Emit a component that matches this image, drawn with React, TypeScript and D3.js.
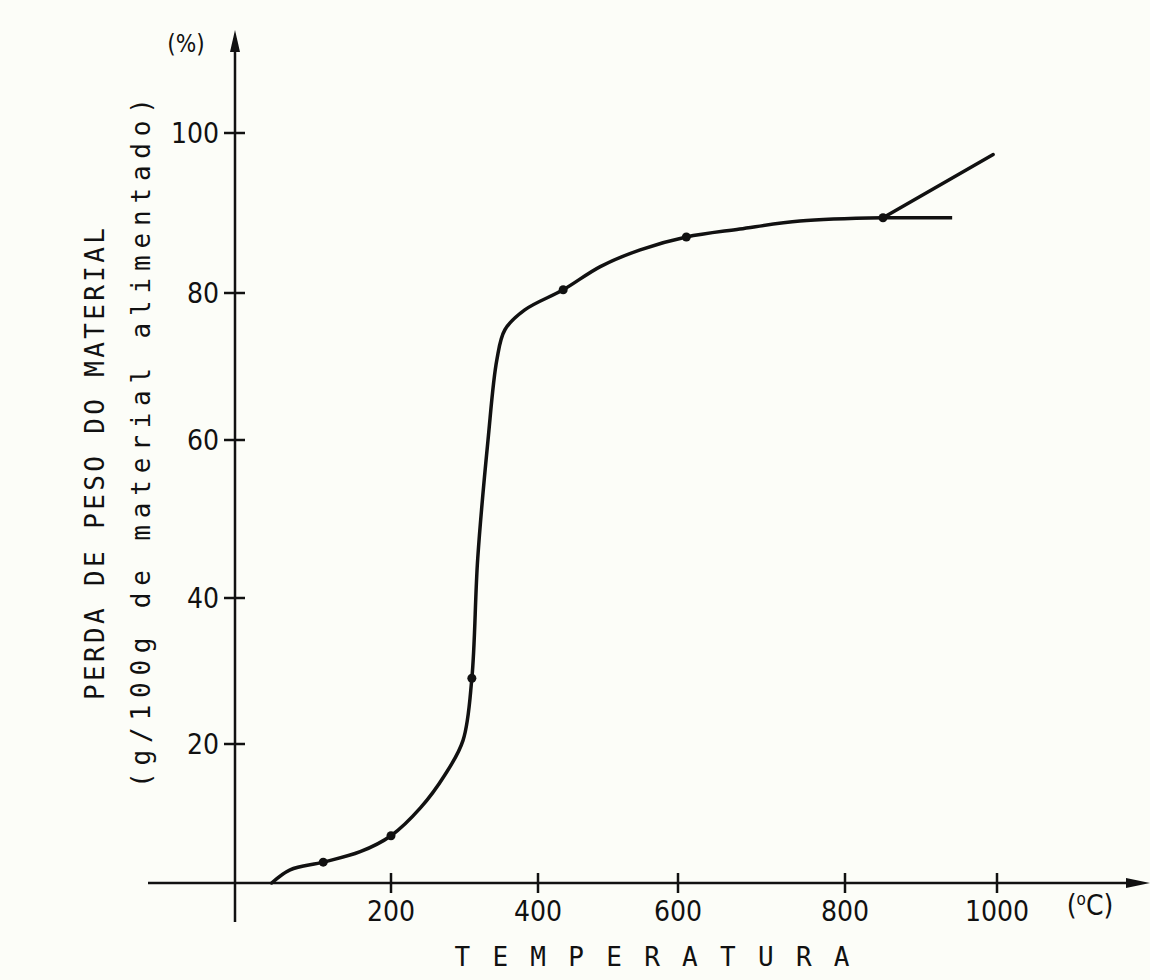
import * as d3 from "d3";

// tick values and where the (hand drawn) axes put them
const xTicks = [0, 200, 400, 600, 800, 1000];
const xTickPx = [237, 391, 538, 678, 845, 997];
const yTicks = [0, 20, 40, 60, 80, 100];
const yTickPx = [883, 744, 598, 440, 293, 133];

// main curve: temperatura (C) vs perda de peso (%)
const temps = [45, 69, 112, 160, 200, 240, 273, 298, 310, 318, 332, 344, 355, 382, 436, 489, 546, 610, 674, 746, 850];
const loss = [0, 1.9, 3, 4.5, 6.8, 10.8, 15.5, 20.5, 29, 45, 60, 70.9, 75, 77.7, 80.4, 83.3, 85.4, 87, 88, 89, 89.4];

// the two branches after 850 C
const flatT = [850, 941];
const flatLoss = [89.4, 89.4];
const riseT = [850, 995];
const riseLoss = [89.4, 97.3];

// points marked with a dot
const markT = [112, 200, 310, 436, 610, 850];
const markLoss = [3, 6.8, 29, 80.4, 87, 89.4];

const W = 1150;
const H = 980;
const font = "'Liberation Sans Narrow', 'DejaVu Sans Condensed', 'DejaVu Sans', sans-serif";
const mono = "'DejaVu Sans Mono', 'Liberation Mono', monospace";
const ink = "#111";

export default function App() {
  const x = d3.scaleLinear().domain(xTicks).range(xTickPx);
  const y = d3.scaleLinear().domain(yTicks).range(yTickPx);

  const line = d3.line<number>((d, i) => x(temps[i]), (d, i) => y(loss[i])).curve(d3.curveCatmullRom.alpha(0.5));
  const flat = d3.line<number>((d, i) => x(flatT[i]), (d, i) => y(flatLoss[i]));
  const rise = d3.line<number>((d, i) => x(riseT[i]), (d, i) => y(riseLoss[i]));

  const x0 = x(0) - 2;
  const y0 = y(0);

  return (
    <svg width={W} height={H} style={{ position: "absolute", left: 0, top: 0, background: "#fcfdf8" }}>
      {/* y axis */}
      <line x1={x0} y1={38} x2={x0} y2={922} stroke={ink} strokeWidth={2.5} />
      <path d={`M${x0},30 L${x0 - 5},52 L${x0 + 5},52 Z`} fill={ink} />
      {yTicks.slice(1).map((t) => (
        <g key={t}>
          <line x1={x0 - 11} x2={x0 + 10} y1={y(t)} y2={y(t)} stroke={ink} strokeWidth={2.5} />
          <text x={x0 - 16} y={y(t)} dy="0.36em" textAnchor="end" fontFamily={font} fontSize={28} fill={ink}>
            {t}
          </text>
        </g>
      ))}
      <text x={186} y={52} textAnchor="middle" fontFamily={font} fontSize={24} fill={ink}>(%)</text>

      {/* x axis */}
      <line x1={148} y1={y0} x2={1135} y2={y0} stroke={ink} strokeWidth={2.5} />
      <path d={`M1150,${y0} L1126,${y0 - 5} L1126,${y0 + 5} Z`} fill={ink} />
      {xTicks.slice(1).map((t) => (
        <g key={t}>
          <line x1={x(t)} x2={x(t)} y1={y0 - 10} y2={y0 + 10} stroke={ink} strokeWidth={2.5} />
          <text x={x(t)} y={y0 + 38} textAnchor="middle" fontFamily={font} fontSize={28} fill={ink}>
            {t}
          </text>
        </g>
      ))}
      <text x={1090} y={y0 + 32} textAnchor="middle" fontFamily={font} fontSize={28} fill={ink}>
        (<tspan fontSize={17} dy={-10}>o</tspan><tspan dy={10}>C)</tspan>
      </text>

      {/* axis titles */}
      <text x={652} y={966} textAnchor="middle" fontFamily={mono} fontSize={26} fill={ink}
        textLength={395} lengthAdjust="spacing">TEMPERATURA</text>
      <text transform="translate(104,464) rotate(-90)" textAnchor="middle" fontFamily={mono} fontSize={26} fill={ink}
        textLength={472} lengthAdjust="spacing">PERDA DE PESO DO MATERIAL</text>
      <text transform="translate(150,443) rotate(-90)" textAnchor="middle" fontFamily={mono} fontSize={26} fill={ink}
        textLength={690} lengthAdjust="spacing">(g/100g de material alimentado)</text>

      {/* curves */}
      <path d={line(temps) ?? ""} fill="none" stroke={ink} strokeWidth={3.5} strokeLinecap="round" />
      <path d={flat(flatT) ?? ""} fill="none" stroke={ink} strokeWidth={3.5} />
      <path d={rise(riseT) ?? ""} fill="none" stroke={ink} strokeWidth={3.5} strokeLinecap="round" />
      {markT.map((t, i) => (
        <circle key={t} cx={x(t)} cy={y(markLoss[i])} r={4.5} fill={ink} />
      ))}
    </svg>
  );
}
